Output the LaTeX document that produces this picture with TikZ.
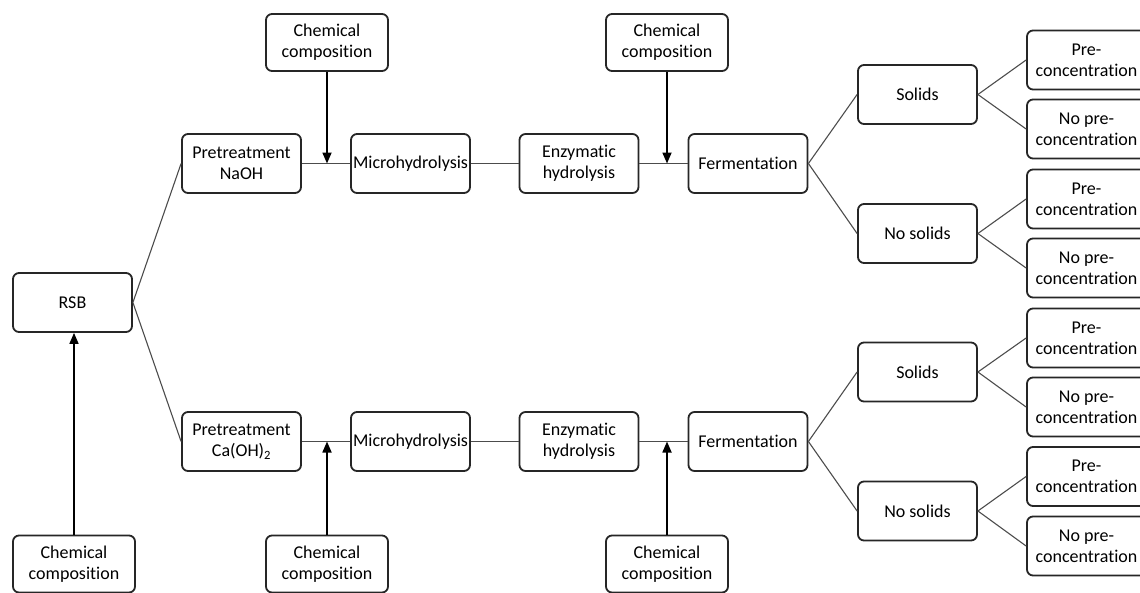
\documentclass[tikz,border=0pt]{standalone}
\usepackage{fontspec}
\setmainfont{Carlito}[Ligatures=NoCommon]
\usetikzlibrary{arrows.meta}
\begin{document}
\begin{tikzpicture}[x=1pt,y=-1pt,
  box/.style={draw=black!85,line width=1.8pt,rounded corners=6pt,fill=white,
    minimum width=119pt,minimum height=59pt,align=center,inner sep=2pt,
    font=\fontsize{18}{21}\selectfont},
  cbox/.style={box,minimum width=122pt,minimum height=57pt},
  link/.style={draw=black!70,line width=1.1pt},
  feed/.style={draw=black,line width=1.7pt,-{Triangle[length=11pt,width=9pt]}}]
\useasboundingbox (0,0) rectangle (1140,592);
% left
\node[box] (rsb) at (72.5,302.5) {RSB};
\node[cbox] (cc0) at (74,564) {Chemical\\composition};
% top chain
\node[cbox] (cc1) at (327,42.5) {Chemical\\composition};
\node[cbox] (cc2) at (667,42.5) {Chemical\\composition};
\node[box] (preN) at (241.5,163.5) {Pretreatment\\NaOH};
\node[box] (micN) at (410.5,163.5) {Microhydrolysis};
\node[box] (enzN) at (579,163.5) {Enzymatic\\hydrolysis};
\node[box] (ferN) at (748,163.5) {Fermentation};
\node[box] (solN) at (917.5,94.5) {Solids};
\node[box] (nosN) at (917.5,233.5) {No solids};
\node[box] (p1) at (1086.5,60) {Pre-\\concentration};
\node[box] (p2) at (1086.5,129) {No pre-\\concentration};
\node[box] (p3) at (1086.5,199) {Pre-\\concentration};
\node[box] (p4) at (1086.5,268) {No pre-\\concentration};
% bottom chain
\node[cbox] (cc3) at (327,564) {Chemical\\composition};
\node[cbox] (cc4) at (667,564) {Chemical\\composition};
\node[box] (preC) at (241.5,441.5) {Pretreatment\\Ca(OH)\textsubscript{2}};
\node[box] (micC) at (410.5,441.5) {Microhydrolysis};
\node[box] (enzC) at (579,441.5) {Enzymatic\\hydrolysis};
\node[box] (ferC) at (748,441.5) {Fermentation};
\node[box] (solC) at (917.5,372) {Solids};
\node[box] (nosC) at (917.5,511) {No solids};
\node[box] (p5) at (1086.5,338) {Pre-\\concentration};
\node[box] (p6) at (1086.5,407) {No pre-\\concentration};
\node[box] (p7) at (1086.5,476.5) {Pre-\\concentration};
\node[box] (p8) at (1086.5,546) {No pre-\\concentration};
% links
\draw[link] (rsb.east) -- (preN.west);
\draw[link] (rsb.east) -- (preC.west);
\draw[link] (preN.east) -- (micN.west);
\draw[link] (micN.east) -- (enzN.west);
\draw[link] (enzN.east) -- (ferN.west);
\draw[link] (ferN.east) -- (solN.west);
\draw[link] (ferN.east) -- (nosN.west);
\draw[link] (solN.east) -- (p1.west);
\draw[link] (solN.east) -- (p2.west);
\draw[link] (nosN.east) -- (p3.west);
\draw[link] (nosN.east) -- (p4.west);
\draw[link] (preC.east) -- (micC.west);
\draw[link] (micC.east) -- (enzC.west);
\draw[link] (enzC.east) -- (ferC.west);
\draw[link] (ferC.east) -- (solC.west);
\draw[link] (ferC.east) -- (nosC.west);
\draw[link] (solC.east) -- (p5.west);
\draw[link] (solC.east) -- (p6.west);
\draw[link] (nosC.east) -- (p7.west);
\draw[link] (nosC.east) -- (p8.west);
% feeds
\draw[feed] (cc0.north) -- (cc0.north |- rsb.south);
\draw[feed] (cc1.south) -- (cc1.south |- preN.east);
\draw[feed] (cc2.south) -- (cc2.south |- enzN.east);
\draw[feed] (cc3.north) -- (cc3.north |- preC.east);
\draw[feed] (cc4.north) -- (cc4.north |- enzC.east);
\end{tikzpicture}
\end{document}
